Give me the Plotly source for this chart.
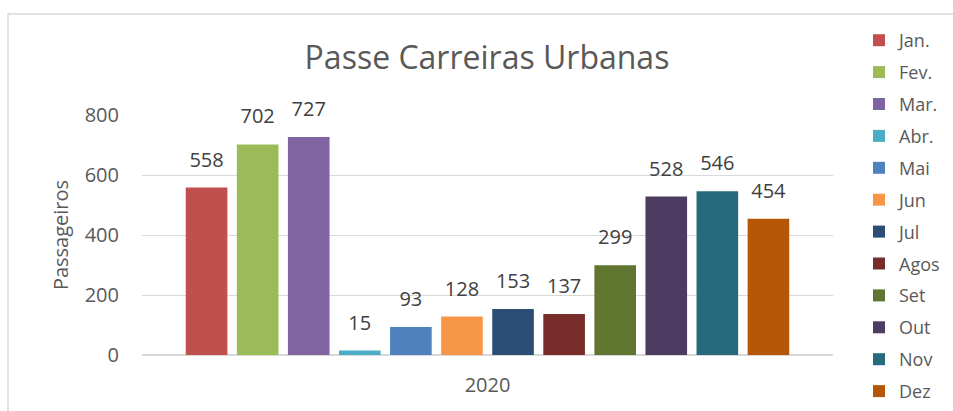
import plotly.graph_objects as go

months = ["Jan.", "Fev.", "Mar.", "Abr.", "Mai", "Jun", "Jul", "Agos", "Set", "Out", "Nov", "Dez"]
values = [558, 702, 727, 15, 93, 128, 153, 137, 299, 528, 546, 454]
colors = ["#C0504D", "#9BBB59", "#8064A2", "#4BACC6", "#4F81BD", "#F79646",
          "#2C4D75", "#772C2A", "#5F7530", "#4D3B62", "#276A7C", "#B65708"]
category = ["2020"]
y_ticks = [0, 200, 400, 600, 800]

FONT = "'Open Sans', sans-serif"
TXT = "#595959"

W, H = 953, 411
L, R, T, B = 142, 120, 4, 0
PH = H - T - B
PLOT_BOTTOM, PLOT_TOP = 355, 115


def py(pix):
    return (H - B - pix) / PH


fig = go.Figure()
for i, (m, v, c) in enumerate(zip(months, values, colors)):
    fig.add_trace(go.Bar(
        x=category, y=[v], name=m, marker_color=c, marker_line_width=0,
        offsetgroup=str(i), legendgroup=m,
    ))
for i, (m, v) in enumerate(zip(months, values)):
    fig.add_trace(go.Scatter(
        x=category, y=[v], mode="markers+text", text=[str(v)], textposition="top center",
        marker=dict(size=24, opacity=0), offsetgroup=str(i), showlegend=False,
        textfont=dict(size=20, color="#404040", family=FONT), cliponaxis=False,
        hoverinfo="skip",
    ))

fig.update_layout(
    width=W, height=H,
    margin=dict(l=L, r=R, t=T, b=B, autoexpand=False),
    paper_bgcolor="white", plot_bgcolor="white",
    barmode="group", bargap=0.113, bargroupgap=0.185,
    scattermode="group", scattergap=0.113,
    font=dict(family=FONT, color=TXT),
    title=dict(text="Passe Carreiras Urbanas", x=(487 - L) / (W - L - R), xref="paper", xanchor="center",
               y=1 - 58 / H, yanchor="middle",
               font=dict(size=32, color=TXT, family=FONT)),
    xaxis=dict(showgrid=False, showline=False, ticks="", tickfont=dict(size=20, color=TXT),
               range=[-0.5, 0.5], ticklabelstandoff=16),
    yaxis=dict(range=[0, 800], tickvals=y_ticks, showgrid=True, gridcolor="#D9D9D9", gridwidth=1,
               domain=[py(PLOT_BOTTOM), py(PLOT_TOP)],
               zeroline=True, zerolinecolor="#D9D9D9", zerolinewidth=2,
               tickfont=dict(size=20, color=TXT), ticks="", ticklabelstandoff=22,
               title=dict(text="Passageiros", font=dict(size=20, color=TXT), standoff=10)),
    legend=dict(x=(859 - L) / (W - L - R), xanchor="left", y=py(22),
                yanchor="top", yref="paper",
                font=dict(size=18, color=TXT, family=FONT),
                tracegroupgap=5.5, itemwidth=30, bgcolor="rgba(0,0,0,0)"),
    showlegend=True,
)

fig.add_shape(type="rect", xref="paper", yref="paper",
              x0=(8 - L) / (W - L - R), x1=1.3, y0=-0.5, y1=py(14),
              line=dict(color="#D9D9D9", width=1.5), fillcolor="rgba(0,0,0,0)", layer="below")

fig.write_html("out.html", config={"displayModeBar": False},
               post_script="document.body.style.margin='0px';")
